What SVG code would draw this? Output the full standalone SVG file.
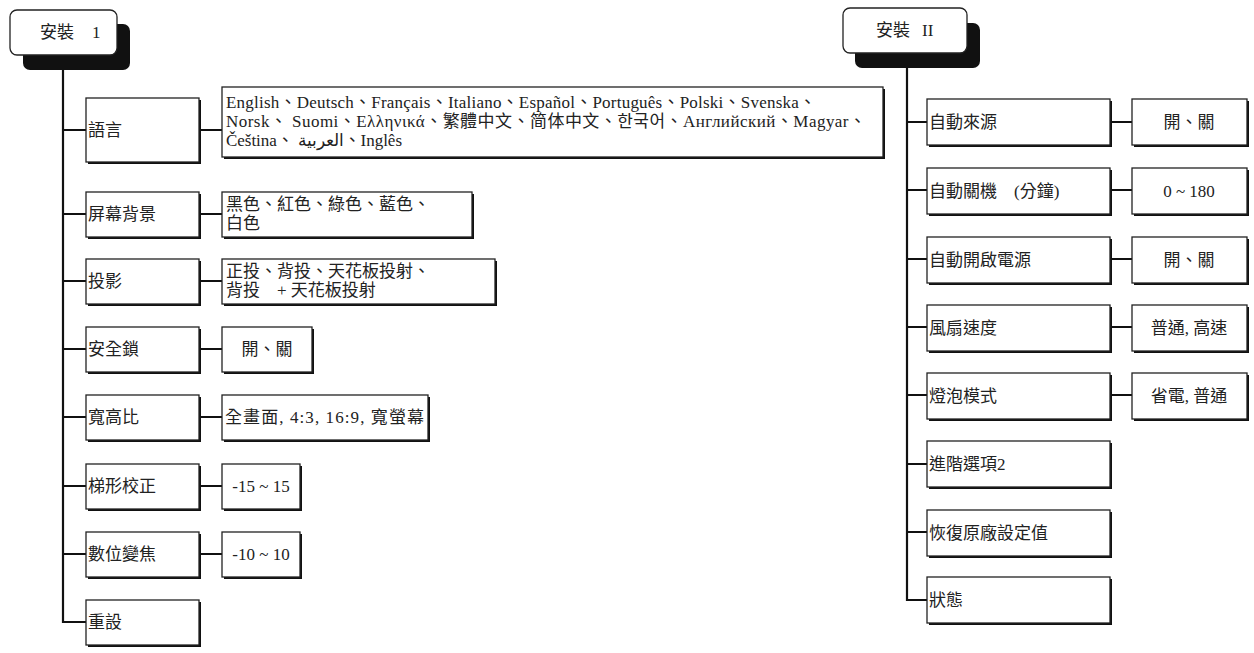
<svg xmlns="http://www.w3.org/2000/svg" width="1254" height="653" viewBox="0 0 1254 653">
<style>
.sh{fill:#111}
.bx{fill:#fff;stroke:#222;stroke-width:1.3}
.t{font-family:"Liberation Serif","Noto Sans CJK TC",serif;font-size:17px;fill:#222}
.c{stroke:#111;stroke-width:2.2;fill:none}
.m{text-anchor:middle}
</style>
<rect width="1254" height="653" fill="#fff"/>
<g id="connectors">
<path class="c" d="M63 70V622H86M63 130H86M199 130H222M63 214H86M199 214H222M63 281H86M199 281H222M63 349H86M199 349H222M63 417H86M199 417H222M63 486H86M199 486H222M63 554H86M199 554H222"/>
<path class="c" d="M907 68V600H927M907 122H927M1110 122H1132M907 190H927M1110 190H1132M907 259H927M1110 259H1132M907 327H927M1110 327H1132M907 395H927M1110 395H1132M907 464H927M907 532H927"/>
</g>
<g id="title1">
<rect class="sh" x="23" y="24" width="107" height="46" rx="7"/>
<rect class="bx" x="10" y="10" width="107" height="45" rx="7"/>
<text class="t" x="40" y="38">安裝<tspan x="92">1</tspan></text>
</g>
<g id="title2">
<rect class="sh" x="855" y="23" width="125" height="45" rx="7"/>
<rect class="bx" x="843" y="8" width="124" height="45" rx="7"/>
<text class="t" x="876" y="36">安裝 <tspan x="922">II</tspan></text>
</g>
<g id="n-lang">
<rect class="sh" x="88" y="100" width="113" height="64"/><rect class="bx" x="86" y="98" width="113" height="64"/>
<text class="t" x="88" y="136">語言</text>
</g>
<g id="v-lang">
<rect class="sh" x="224" y="89" width="661" height="70"/><rect class="bx" x="222" y="87" width="661" height="70"/>
<text class="t" x="226" y="108" textLength="590" lengthAdjust="spacing">English、Deutsch、Français、Italiano、Español、Português、Polski、Svenska、</text>
<text class="t" x="226" y="127" textLength="640" lengthAdjust="spacing">Norsk、 Suomi、Ελληνικά、繁體中文、简体中文、한국어、Английский、Magyar、</text>
<text class="t" x="226" y="146" textLength="176" lengthAdjust="spacing">Čeština、 العربية、Inglês</text>
</g>
<g id="n-bg">
<rect class="sh" x="88" y="194" width="113" height="45"/><rect class="bx" x="86" y="192" width="113" height="45"/>
<text class="t" x="88" y="220">屏幕背景</text>
</g>
<g id="v-bg">
<rect class="sh" x="224" y="194" width="250" height="45"/><rect class="bx" x="222" y="192" width="250" height="45"/>
<text class="t" x="226" y="210">黑色、紅色、綠色、藍色、</text>
<text class="t" x="226" y="229">白色</text>
</g>
<g id="n-proj">
<rect class="sh" x="88" y="261" width="113" height="45"/><rect class="bx" x="86" y="259" width="113" height="45"/>
<text class="t" x="88" y="287">投影</text>
</g>
<g id="v-proj">
<rect class="sh" x="224" y="261" width="273" height="45"/><rect class="bx" x="222" y="259" width="273" height="45"/>
<text class="t" x="226" y="277">正投、背投、天花板投射、</text>
<text class="t" x="226" y="296">背投　+ 天花板投射</text>
</g>
<g id="n-lock">
<rect class="sh" x="88" y="329" width="113" height="45"/><rect class="bx" x="86" y="327" width="113" height="45"/>
<text class="t" x="88" y="355">安全鎖</text>
</g>
<g id="v-lock">
<rect class="sh" x="224" y="329" width="90" height="45"/><rect class="bx" x="222" y="327" width="90" height="45"/>
<text class="t m" x="267" y="355">開、關</text>
</g>
<g id="n-aspect">
<rect class="sh" x="88" y="397" width="113" height="45"/><rect class="bx" x="86" y="395" width="113" height="45"/>
<text class="t" x="88" y="423">寬高比</text>
</g>
<g id="v-aspect">
<rect class="sh" x="224" y="397" width="206" height="45"/><rect class="bx" x="222" y="395" width="206" height="45"/>
<text class="t" x="225" y="423" textLength="199" lengthAdjust="spacing">全畫面, 4:3, 16:9, 寬螢幕</text>
</g>
<g id="n-key">
<rect class="sh" x="88" y="466" width="113" height="45"/><rect class="bx" x="86" y="464" width="113" height="45"/>
<text class="t" x="88" y="492">梯形校正</text>
</g>
<g id="v-key">
<rect class="sh" x="224" y="466" width="78" height="45"/><rect class="bx" x="222" y="464" width="78" height="45"/>
<text class="t m" x="261" y="492">-15 ~ 15</text>
</g>
<g id="n-zoom">
<rect class="sh" x="88" y="534" width="113" height="45"/><rect class="bx" x="86" y="532" width="113" height="45"/>
<text class="t" x="88" y="560">數位變焦</text>
</g>
<g id="v-zoom">
<rect class="sh" x="224" y="534" width="78" height="45"/><rect class="bx" x="222" y="532" width="78" height="45"/>
<text class="t m" x="261" y="560">-10 ~ 10</text>
</g>
<g id="n-reset">
<rect class="sh" x="88" y="602" width="113" height="45"/><rect class="bx" x="86" y="600" width="113" height="45"/>
<text class="t" x="88" y="628">重設</text>
</g>
<g id="n-autosrc">
<rect class="sh" x="929" y="101" width="183" height="46"/><rect class="bx" x="927" y="99" width="183" height="46"/>
<text class="t" x="929" y="128">自動來源</text>
</g>
<g id="v-autosrc">
<rect class="sh" x="1134" y="101" width="115" height="46"/><rect class="bx" x="1132" y="99" width="115" height="46"/>
<text class="t m" x="1189" y="128">開、關</text>
</g>
<g id="n-autooff">
<rect class="sh" x="929" y="170" width="183" height="46"/><rect class="bx" x="927" y="168" width="183" height="46"/>
<text class="t" x="929" y="197">自動關機　(分鐘)</text>
</g>
<g id="v-autooff">
<rect class="sh" x="1134" y="170" width="115" height="46"/><rect class="bx" x="1132" y="168" width="115" height="46"/>
<text class="t m" x="1189" y="197">0 ~ 180</text>
</g>
<g id="n-autoon">
<rect class="sh" x="929" y="239" width="183" height="46"/><rect class="bx" x="927" y="237" width="183" height="46"/>
<text class="t" x="929" y="266">自動開啟電源</text>
</g>
<g id="v-autoon">
<rect class="sh" x="1134" y="239" width="115" height="46"/><rect class="bx" x="1132" y="237" width="115" height="46"/>
<text class="t m" x="1189" y="266">開、關</text>
</g>
<g id="n-fan">
<rect class="sh" x="929" y="307" width="183" height="46"/><rect class="bx" x="927" y="305" width="183" height="46"/>
<text class="t" x="929" y="334">風扇速度</text>
</g>
<g id="v-fan">
<rect class="sh" x="1134" y="307" width="115" height="46"/><rect class="bx" x="1132" y="305" width="115" height="46"/>
<text class="t m" x="1189" y="334">普通, 高速</text>
</g>
<g id="n-lamp">
<rect class="sh" x="929" y="375" width="183" height="46"/><rect class="bx" x="927" y="373" width="183" height="46"/>
<text class="t" x="929" y="402">燈泡模式</text>
</g>
<g id="v-lamp">
<rect class="sh" x="1134" y="375" width="115" height="46"/><rect class="bx" x="1132" y="373" width="115" height="46"/>
<text class="t m" x="1189" y="402">省電, 普通</text>
</g>
<g id="n-adv2">
<rect class="sh" x="929" y="443" width="183" height="46"/><rect class="bx" x="927" y="441" width="183" height="46"/>
<text class="t" x="929" y="470">進階選項2</text>
</g>
<g id="n-factory">
<rect class="sh" x="929" y="512" width="183" height="46"/><rect class="bx" x="927" y="510" width="183" height="46"/>
<text class="t" x="929" y="539">恢復原廠設定值</text>
</g>
<g id="n-status">
<rect class="sh" x="929" y="579" width="183" height="46"/><rect class="bx" x="927" y="577" width="183" height="46"/>
<text class="t" x="929" y="606">狀態</text>
</g>
</svg>
